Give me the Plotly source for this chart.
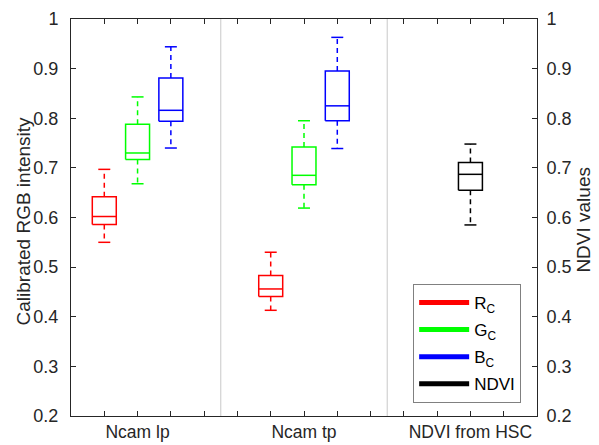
import plotly.graph_objects as go

# ---- data ----
group_labels = ["Ncam lp", "Ncam tp", "NDVI from HSC"]
group_ticks = [2, 7, 12]
separators = [4.5, 9.5]

box_names = ["R_lp", "G_lp", "B_lp", "R_tp", "G_tp", "B_tp", "NDVI"]
box_pos = [1, 2, 3, 6, 7, 8, 12]
box_colors = ["#ff0000", "#00ff00", "#0000ff", "#ff0000", "#00ff00", "#0000ff", "#000000"]
box_axis = ["y", "y", "y", "y", "y", "y", "y2"]
lower_whisker = [0.550, 0.668, 0.740, 0.413, 0.619, 0.739, 0.585]
q1_vals = [0.586, 0.717, 0.794, 0.441, 0.666, 0.795, 0.655]
median_vals = [0.602, 0.730, 0.816, 0.456, 0.685, 0.825, 0.687]
q3_vals = [0.642, 0.788, 0.881, 0.483, 0.742, 0.895, 0.711]
upper_whisker = [0.697, 0.843, 0.944, 0.530, 0.795, 0.963, 0.748]

legend_labels = ["R<sub>C</sub>", "G<sub>C</sub>", "B<sub>C</sub>", "NDVI"]
legend_colors = ["#ff0000", "#00ff00", "#0000ff", "#000000"]

yticks = [0.2, 0.3, 0.4, 0.5, 0.6, 0.7, 0.8, 0.9, 1.0]
ytick_text = ["0.2", "0.3", "0.4", "0.5", "0.6", "0.7", "0.8", "0.9", "1"]
left_title = "Calibrated RGB intensity"
right_title = "NDVI values"

BOX_HALF = 0.36
CAP_HALF = 0.18
FONT = "Liberation Sans, Arial, sans-serif"
AX = "#262626"

fig = go.Figure()

for i in range(len(box_pos)):
    p = box_pos[i]
    c = box_colors[i]
    lo, a, m, b, hi = lower_whisker[i], q1_vals[i], median_vals[i], q3_vals[i], upper_whisker[i]
    xs = [p - BOX_HALF, p + BOX_HALF, p + BOX_HALF, p - BOX_HALF, p - BOX_HALF, None,
          p - BOX_HALF, p + BOX_HALF, None,
          p - CAP_HALF, p + CAP_HALF, None,
          p - CAP_HALF, p + CAP_HALF]
    ys = [a, a, b, b, a, None,
          m, m, None,
          hi, hi, None,
          lo, lo]
    fig.add_trace(go.Scatter(x=xs, y=ys, mode="lines", yaxis=box_axis[i],
                             line=dict(color=c, width=1.5), showlegend=False,
                             hoverinfo="skip"))
    fig.add_trace(go.Scatter(x=[p, p, None, p, p], y=[b, hi, None, a, lo], mode="lines",
                             yaxis=box_axis[i],
                             line=dict(color=c, width=1.5, dash="5px,4px"),
                             showlegend=False, hoverinfo="skip"))

for k, (lab, col) in enumerate(zip(legend_labels, legend_colors)):
    fig.add_trace(go.Scatter(x=[None], y=[None], mode="lines", name=lab,
                             legendgroup="g%d" % k,
                             line=dict(color=col, width=5)))

for s in separators:
    fig.add_shape(type="line", x0=s, x1=s, y0=0, y1=1, xref="x", yref="paper",
                  line=dict(color="#c8c8c8", width=1), layer="below")

fig.add_annotation(text=left_title, xref="paper", yref="paper", x=-0.103, y=0.49,
                   xanchor="center", yanchor="middle", textangle=-90, showarrow=False,
                   font=dict(size=19, color=AX))
fig.add_annotation(text=right_title, xref="paper", yref="paper", x=1.099, y=0.495,
                   xanchor="center", yanchor="middle", textangle=-90, showarrow=False,
                   font=dict(size=19, color=AX))

tickvals_x = list(range(1, 14))
ticktext_x = [group_labels[group_ticks.index(v)] if v in group_ticks else "" for v in tickvals_x]

fig.update_layout(
    width=599, height=445,
    margin=dict(l=71, r=62, t=19, b=29),
    paper_bgcolor="white", plot_bgcolor="white",
    font=dict(family=FONT, size=18, color=AX),
    xaxis=dict(range=[0, 14], tickvals=tickvals_x, ticktext=ticktext_x,
               ticks="inside", ticklen=5, tickcolor=AX, tickwidth=1,
               showline=True, linecolor=AX, linewidth=1, mirror="ticks",
               showgrid=False, zeroline=False, tickfont=dict(size=17.5),
               ticklabelstandoff=0, automargin=False),
    yaxis=dict(range=[0.2, 1.0], tickvals=yticks, ticktext=ytick_text,
               ticks="inside", ticklen=5, tickcolor=AX,
               showline=True, linecolor=AX, linewidth=1,
               showgrid=False, zeroline=False, tickfont=dict(size=18),
               ticklabelstandoff=8, automargin=False),
    yaxis2=dict(range=[0.2, 1.0], tickvals=yticks, ticktext=ytick_text,
                overlaying="y", side="right",
                ticks="inside", ticklen=5, tickcolor=AX,
                showline=True, linecolor=AX, linewidth=1,
                showgrid=False, zeroline=False, tickfont=dict(size=18),
                ticklabelstandoff=5, automargin=False),
    legend=dict(x=0.966, y=0.033, xanchor="right", yanchor="bottom",
                bordercolor="#808080", borderwidth=1, bgcolor="white",
                font=dict(size=17, color="#000000"), itemwidth=50,
                tracegroupgap=2),
    showlegend=True,
)

fig.write_html("out.html")
